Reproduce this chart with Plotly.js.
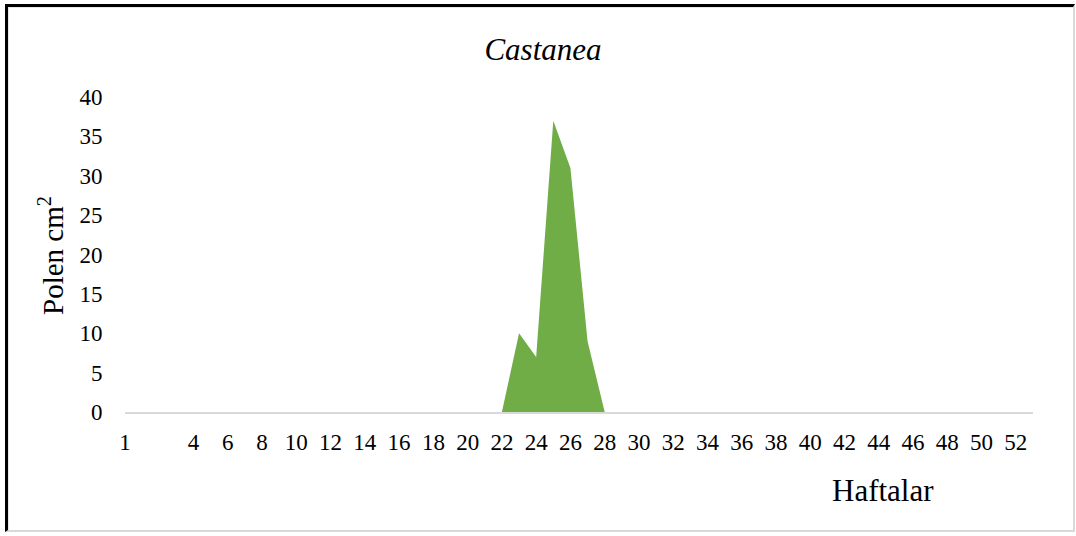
<!DOCTYPE html>
<html>
<head>
<meta charset="utf-8">
<script src="https://cdn.plot.ly/plotly-3.0.1.min.js"></script>
<style>
  html, body { margin: 0; padding: 0; background: #fff; }
  #wrap { position: relative; width: 1076px; height: 536px; }
  #chart { position: absolute; left: 0; top: 0; width: 1076px; height: 536px; }
  #frame { position: absolute; left: 5px; top: 4px; width: 1070px; height: 528px; box-sizing: border-box;
           border-left: 3px solid #000; border-top: 3px solid #000;
           border-right: 2px solid #d9d9d9; border-bottom: 2px solid #d9d9d9; pointer-events: none; }
  #inner { position: absolute; left: 8px; top: 7px; width: 1065px; height: 523px; box-sizing: border-box;
           border-left: 1px solid #e6e6e6; border-top: 1px solid #e6e6e6; pointer-events: none; }
</style>
</head>
<body>
<div id="wrap">
  <div id="chart"></div>
  <div id="frame"></div>
  <div id="inner"></div>
</div>
<script>
// Weeks (category positions) and pollen values
const weeks = [];
for (let w = 0; w <= 52; w++) weeks.push(w);
const pollen = [
  0, 0, 0, 0, 0, 0, 0, 0, 0, 0,   // 0-9
  0, 0, 0, 0, 0, 0, 0, 0, 0, 0,   // 10-19
  0, 0, 0, 10, 7, 37, 31, 9, 0, 0, // 20-29
  0, 0, 0, 0, 0, 0, 0, 0, 0, 0,   // 30-39
  0, 0, 0, 0, 0, 0, 0, 0, 0, 0,   // 40-49
  0, 0, 0                          // 50-52
];
const tickVals = [0, 4, 6, 8, 10, 12, 14, 16, 18, 20, 22, 24, 26, 28, 30, 32, 34, 36, 38, 40, 42, 44, 46, 48, 50, 52];
const tickText = ["1", "4", "6", "8", "10", "12", "14", "16", "18", "20", "22", "24", "26", "28", "30", "32", "34", "36", "38", "40", "42", "44", "46", "48", "50", "52"];
const yTicks = [0, 5, 10, 15, 20, 25, 30, 35, 40];

const FONT = "Liberation Serif";

const trace = {
  x: weeks,
  y: pollen,
  type: 'scatter',
  mode: 'lines',
  fill: 'tozeroy',
  fillcolor: '#70AD47',
  line: { color: '#70AD47', width: 0 },
  hoverinfo: 'x+y'
};

const layout = {
  width: 1076,
  height: 536,
  paper_bgcolor: '#fff',
  plot_bgcolor: '#fff',
  margin: { l: 125, r: 43, t: 97, b: 124 },
  showlegend: false,
  font: { family: FONT, color: '#000', size: 23 },
  title: {
    text: 'Castanea',
    font: { family: FONT, size: 31, color: '#000', style: 'italic' },
    x: 543 / 1076, xanchor: 'center',
    y: 1 - 49 / 536, yanchor: 'middle',
    xref: 'container', yref: 'container'
  },
  xaxis: {
    range: [0, 53],
    tickmode: 'array',
    tickvals: tickVals,
    ticktext: tickText,
    showgrid: false,
    zeroline: false,
    showline: true,
    linecolor: '#d9d9d9',
    linewidth: 2,
    ticks: 'outside',
    ticklen: 8,
    tickcolor: 'rgba(0,0,0,0)',
    tickfont: { family: FONT, size: 23, color: '#000' },
    fixedrange: true
  },
  yaxis: {
    range: [0, 40],
    tickmode: 'array',
    tickvals: yTicks,
    showgrid: false,
    zeroline: false,
    showline: false,
    ticks: 'outside',
    ticklen: 17,
    tickcolor: 'rgba(0,0,0,0)',
    tickfont: { family: FONT, size: 23, color: '#000' },
    fixedrange: true
  },
  annotations: [
    {
      text: 'Haftalar',
      xref: 'paper', yref: 'paper',
      x: (883 - 125) / 908, y: (412 - 490) / 315,
      xanchor: 'center', yanchor: 'middle',
      showarrow: false,
      font: { family: FONT, size: 31, color: '#000' }
    },
    {
      text: 'Polen cm<sup>2</sup>',
      xref: 'paper', yref: 'paper',
      x: (51 - 125) / 908, y: (412 - 256) / 315,
      xanchor: 'center', yanchor: 'middle',
      textangle: -90,
      showarrow: false,
      font: { family: FONT, size: 29, color: '#000' }
    }
  ]
};

Plotly.newPlot('chart', [trace], layout, { displayModeBar: false, staticPlot: true });
</script>
</body>
</html>
